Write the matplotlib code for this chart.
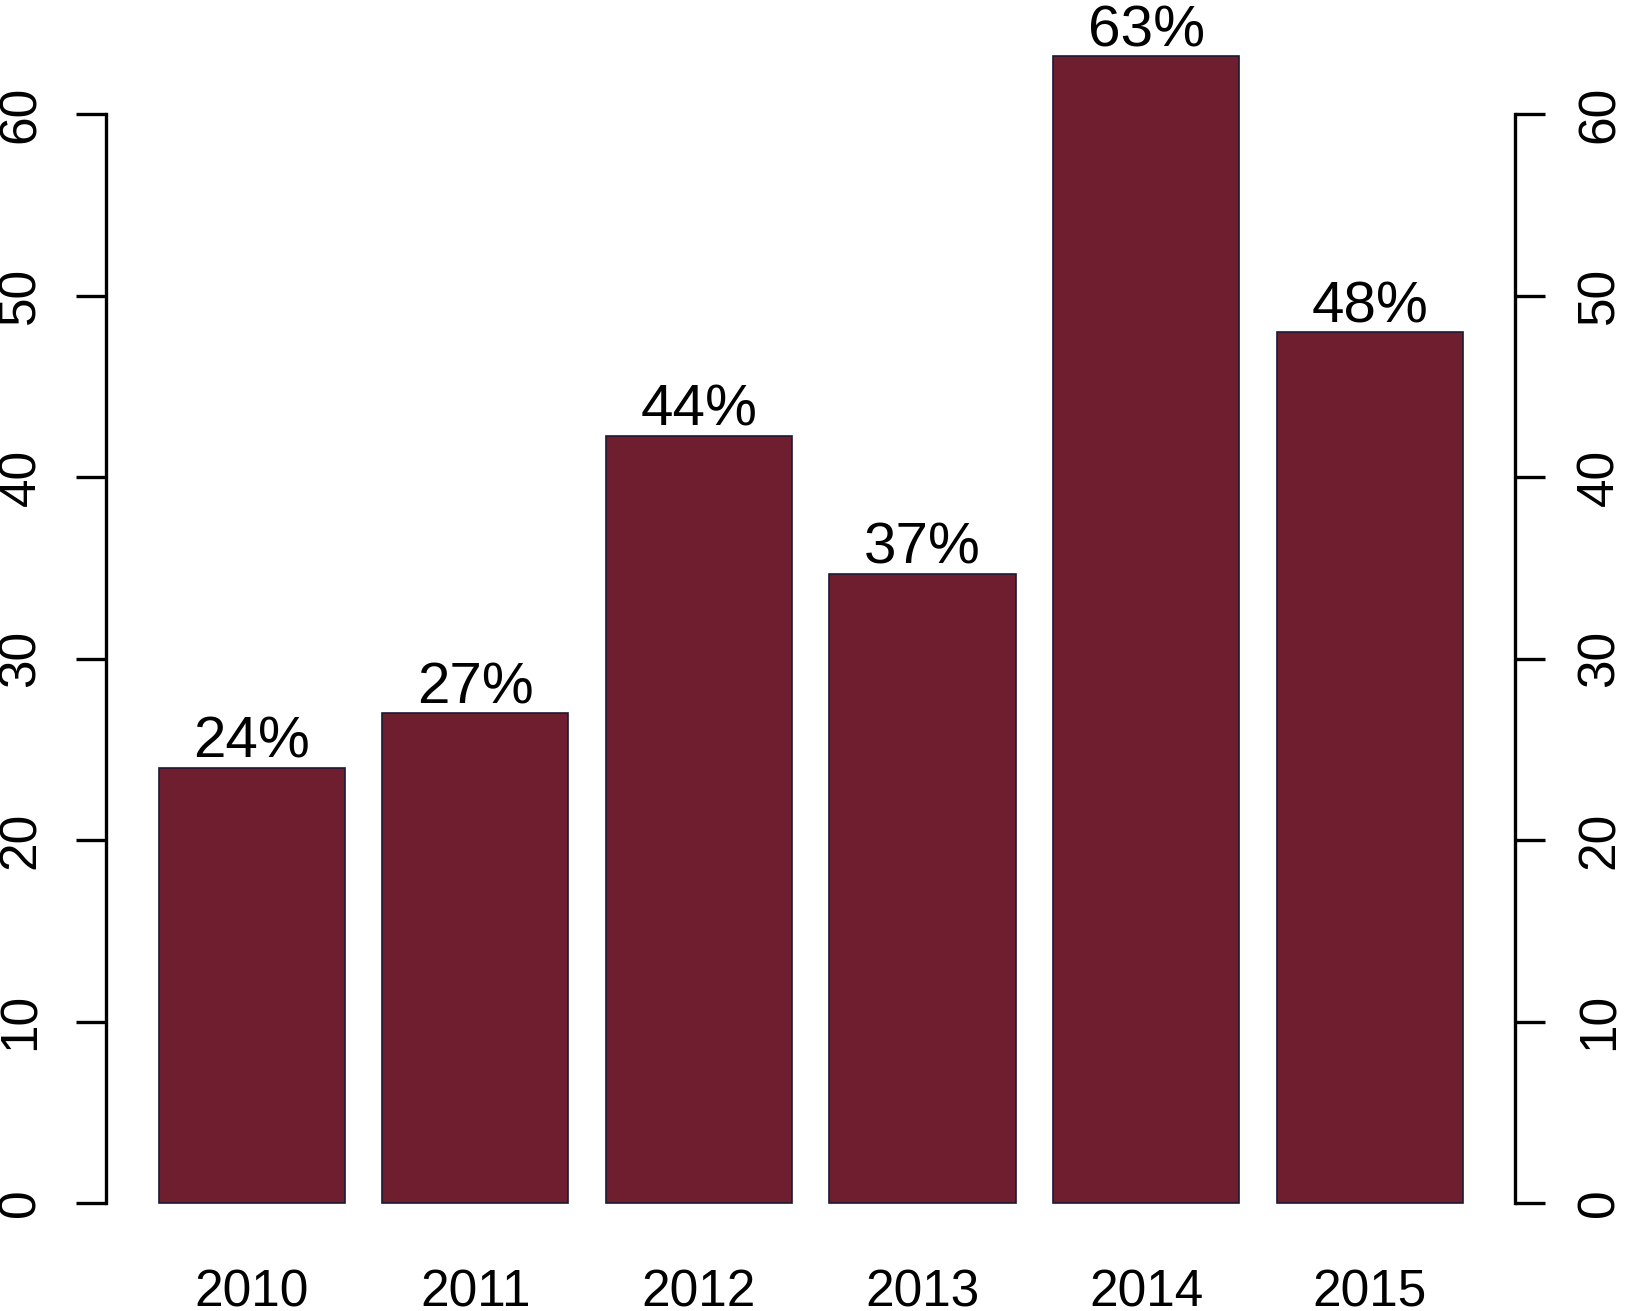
import matplotlib
matplotlib.use('Agg')
import matplotlib.pyplot as plt

# data
years = ['2010', '2011', '2012', '2013', '2014', '2015']
values = [24, 27, 42.3, 34.7, 63.2, 48]
labels = ['24%', '27%', '44%', '37%', '63%', '48%']

plt.rcParams['font.family'] = ['Liberation Sans', 'DejaVu Sans']

W, H = 1625, 1311
fig = plt.figure(figsize=(W / 100, H / 100), dpi=100)

# plot region in pixels (R barplot style layout)
left, right = 106.4, 1515
top, bottom = 10.5, 1249
ax = fig.add_axes([left / W, 1 - bottom / H, (right - left) / W, (bottom - top) / H])

# R barplot positions: width 1, space 0.2
centers = [0.7 + 1.2 * i for i in range(len(years))]
ax.bar(centers, values, width=1.0, color='#6e1e2e', edgecolor='#1c1a35', linewidth=1.2)

ax.set_xlim(0.2 - 0.28, 7.2 + 0.28)
ymax = max(values)
ax.set_ylim(-0.04 * ymax, ymax * 1.04)

for x, v, lab in zip(centers, values, labels):
    ax.annotate(lab, (x, v), xytext=(0, 7), textcoords='offset points',
                ha='center', va='baseline', fontsize=42, annotation_clip=False)

for s in ['top', 'bottom']:
    ax.spines[s].set_visible(False)
for s in ['left', 'right']:
    ax.spines[s].set_bounds(0, 60)
    ax.spines[s].set_linewidth(2.4)

ax.set_yticks([0, 10, 20, 30, 40, 50, 60])
ax.tick_params(axis='y', left=True, right=True, labelleft=True, labelright=True,
               length=21.5, width=2.4, pad=22, labelsize=37, labelrotation=90)
for t in ax.get_yticklabels():
    t.set_va('center')

ax.set_xticks(centers)
ax.set_xticklabels(years)
ax.tick_params(axis='x', length=0, pad=14, labelsize=37)

fig.savefig('out.png', dpi=100)
